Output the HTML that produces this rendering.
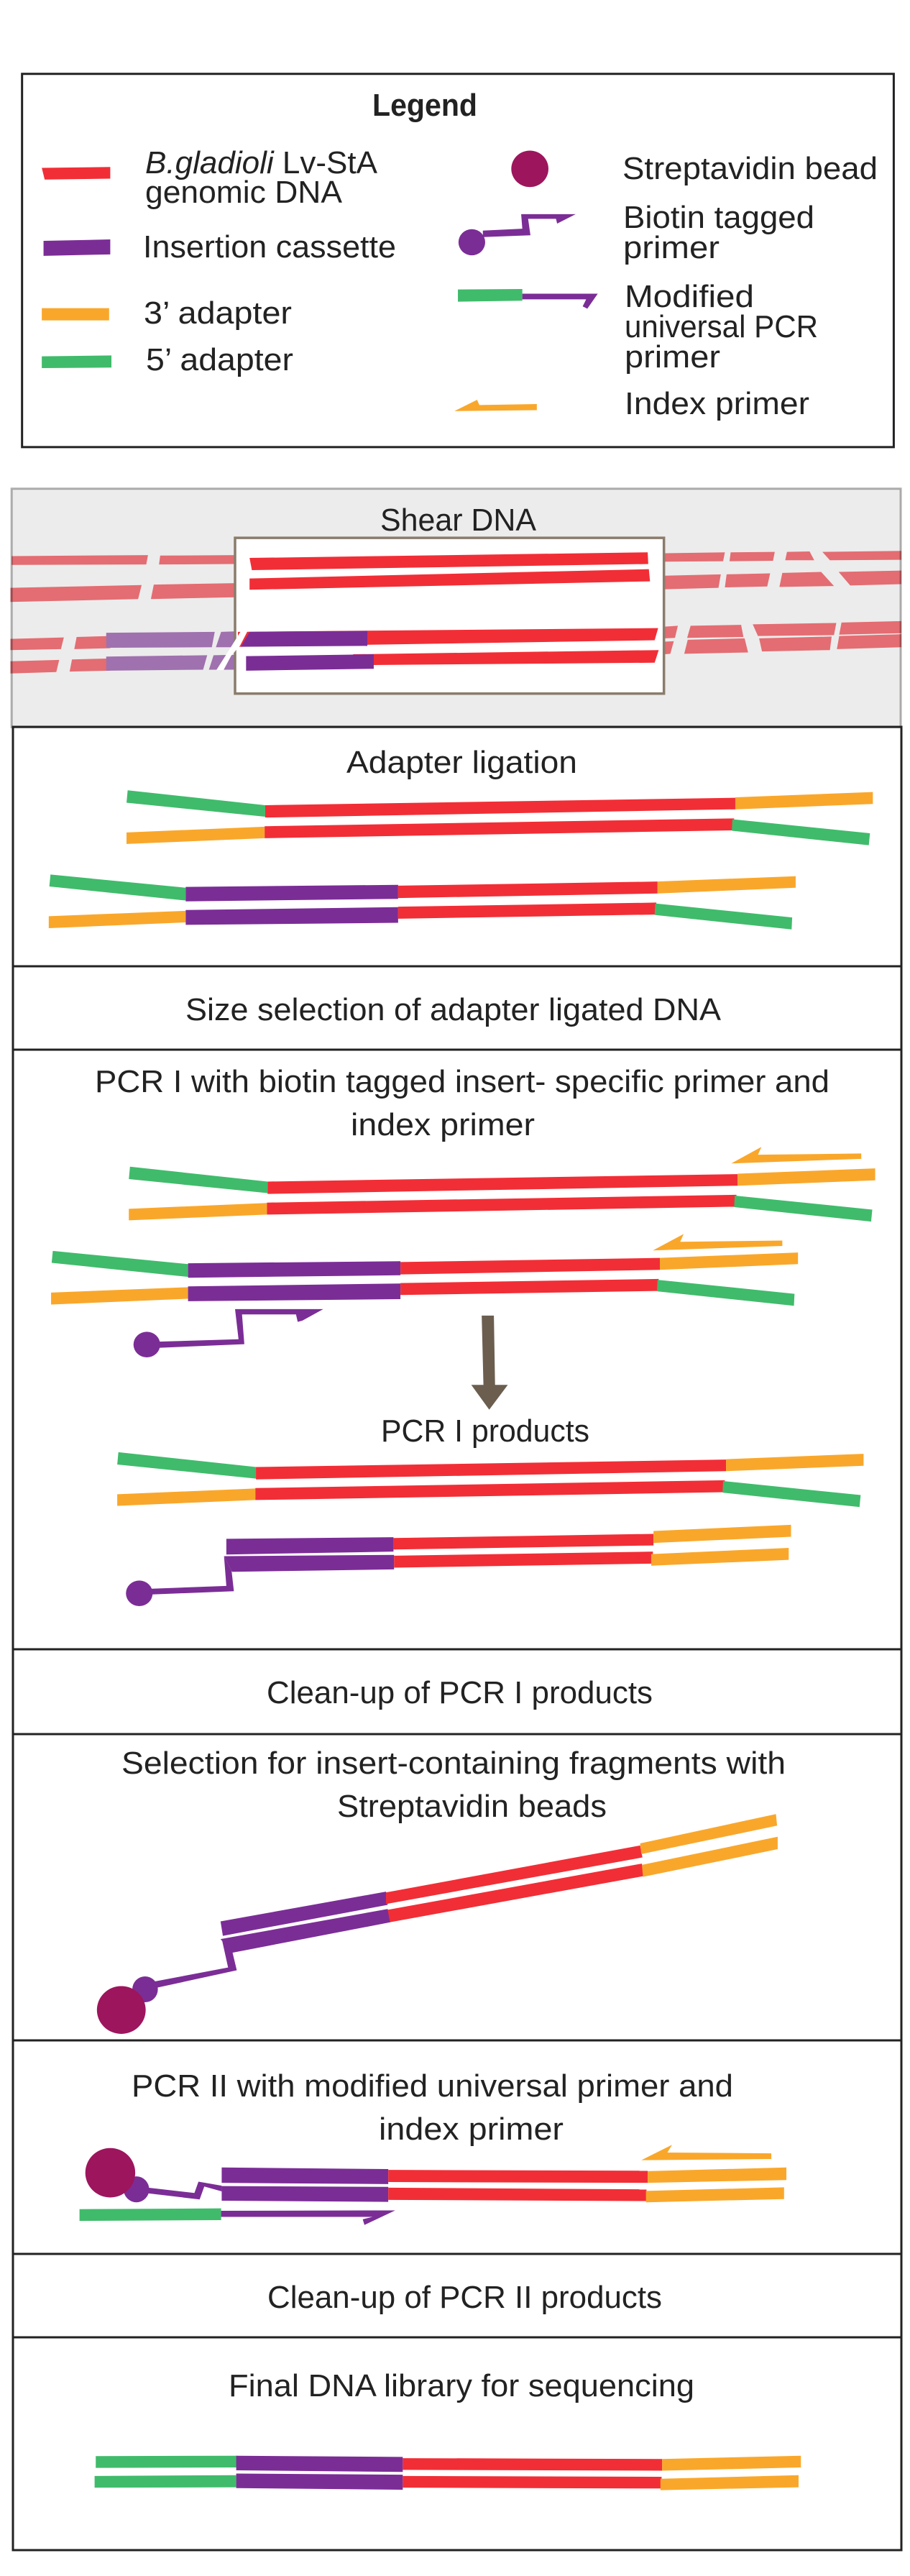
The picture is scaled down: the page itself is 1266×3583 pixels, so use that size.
<!DOCTYPE html>
<html><head><meta charset="utf-8"><style>
html,body{margin:0;padding:0;background:#fff;width:1266px;height:3583px;overflow:hidden}
svg{display:block}
text{font-family:"Liberation Sans",sans-serif;font-size:44px;fill:#222}
.r{fill:#f12e36}.p{fill:#7b2d96}.o{fill:#f9a72b}.g{fill:#40bb6b}.m{fill:#9d155d}
.fr{fill:#e36d72}.fp{fill:#9f71ae}
</style></head><body>
<svg width="1266" height="3583" viewBox="0 0 1266 3583" xmlns="http://www.w3.org/2000/svg" xmlns:xlink="http://www.w3.org/1999/xlink">
<rect width="1266" height="3583" fill="#fff"/>
<!-- Z1 -->
<g transform="scale(.8074,.6505)">
<rect x="38" y="158" width="1502" height="798" fill="#fff" stroke="#222" stroke-width="3" vector-effect="non-scaling-stroke"/>
<polygon class="r" points="72,359 190,357 190,382 77,384"/>
<polygon class="p" points="75,515 190,512 190,544 75,547"/>
<polygon class="o" points="72,659 188,659 188,685 72,685"/>
<polygon class="g" points="72,762 192,760 192,786 72,787"/>
<ellipse class="m" cx="913" cy="361" rx="32" ry="39"/>
<ellipse class="p" cx="813" cy="518" rx="23" ry="28"/>
<polygon class="p" points="832,493 900,489 898,458 992,458 960,478 958,468 910,468 914,503 832,507"/>
<polygon class="g" points="789,619 900,618 900,643 789,645"/>
<polygon class="p" points="900,628 1030,628 1012,660 1004,655 1010,640 900,640"/>
<polygon class="o" points="783,879 822,855 826,866 925,864 925,877"/>
<rect x="20" y="1045" width="1532" height="510" fill="#ececec"/>
<g class="fr">
<polygon points="20,1189 255,1187 252,1207 20,1208"/><polygon points="276,1188 405,1187 405,1206 274,1207"/>
<polygon points="18,1257 244,1251 238,1281 18,1287"/><polygon points="265,1250 405,1247 405,1277 260,1281"/>
<polygon points="1145,1183 1249,1181 1246,1200 1145,1201"/><polygon points="1259,1181 1335,1180 1332,1199 1257,1200"/>
<polygon points="1356,1180 1395,1179 1403,1198 1353,1198"/><polygon points="1417,1180 1553,1178 1553,1197 1430,1198"/>
<polygon points="1145,1231 1242,1228 1238,1257 1145,1260"/><polygon points="1252,1228 1327,1226 1322,1254 1249,1256"/>
<polygon points="1348,1225 1415,1223 1437,1253 1343,1255"/><polygon points="1445,1223 1553,1220 1553,1249 1465,1252"/>
<polygon points="18,1366 110,1363 105,1388 18,1390"/><polygon points="132,1362 190,1360 190,1386 128,1388"/>
<polygon points="18,1414 102,1411 97,1437 18,1440"/><polygon points="124,1410 190,1408 190,1434 120,1436"/>
<polygon points="1145,1340 1168,1338 1163,1364 1145,1365"/><polygon points="1190,1338 1277,1336 1281,1362 1184,1364"/>
<polygon points="1297,1335 1441,1332 1437,1358 1306,1360"/><polygon points="1450,1331 1553,1328 1553,1354 1446,1357"/>
<polygon points="1145,1372 1161,1371 1155,1398 1145,1399"/><polygon points="1185,1368 1283,1365 1289,1395 1179,1398"/>
<polygon points="1308,1365 1433,1361 1430,1390 1313,1393"/><polygon points="1446,1360 1553,1356 1553,1384 1442,1388"/>
</g>
<g class="fp">
<polygon points="183,1353 370,1351 365,1384 183,1385"/><polygon points="381,1351 408,1350 408,1384 372,1384"/>
<polygon points="183,1404 357,1401 350,1432 183,1434"/><polygon points="368,1401 408,1400 408,1432 360,1432"/>
</g>
<rect x="20" y="1045" width="1532" height="510" fill="none" stroke="#000" stroke-opacity=".3" stroke-width="3" vector-effect="non-scaling-stroke"/>
<rect x="405" y="1150" width="739" height="333" fill="#fff" stroke="#8a7c6c" stroke-width="3.5" vector-effect="non-scaling-stroke"/>
<polygon class="r" points="430,1193 1116,1181 1117,1206 434,1219"/>
<polygon class="r" points="430,1237 1118,1217 1120,1243 430,1261"/>
<polygon class="r" points="410,1351 1134,1343 1128,1369 410,1383"/>
<polygon class="p" points="415,1383 430,1351 633,1349 633,1381"/>
<polygon class="r" points="608,1399 1135,1390 1128,1417 640,1422"/>
<polygon class="p" points="424,1403 644,1399 644,1430 424,1434"/>
</g>
<polygon points="335,878 344.3,878 334,898 321.7,912 311,932 301,932 315,910" fill="#fff"/>
<!-- panel lines -->
<g fill="none" stroke="#222">
<rect x="18" y="1011" width="1236" height="2536" stroke-width="3"/>
<path d="M18 1344H1254M18 1460H1254M18 2294H1254M18 2412H1254M18 2838H1254M18 3135H1254M18 3251H1254" stroke-width="3"/>
</g>
<!-- Z2 -->
<g transform="translate(0,1000) scale(.8074,.574)">
<g id="a">
<polygon class="g" points="220,173 457,209 457,237 218,203"/><polygon class="r" points="457,209 1267,191 1267,219 457,239"/><polygon class="o" points="1267,190 1504,177 1504,206 1267,219"/>
<polygon class="o" points="218,275 456,261 456,289 218,303"/><polygon class="r" points="456,260 1265,241 1262,270 456,289"/><polygon class="g" points="1262,243 1499,277 1497,306 1261,271"/>
</g>
<g id="b">
<polygon class="g" points="87,377 320,409 320,440 85,406"/><polygon class="r" points="686,404 1133,394 1133,423 686,434"/><polygon class="p" points="320,407 686,402 686,436 320,442"/><polygon class="o" points="1133,394 1371,381 1371,409 1133,423"/>
<polygon class="o" points="84,478 320,465 320,493 84,507"/><polygon class="r" points="686,455 1131,445 1129,474 686,484"/><polygon class="p" points="320,463 686,456 686,494 320,499"/><polygon class="g" points="1129,447 1365,481 1364,510 1128,475"/>
</g>
<use xlink:href="#a" href="#a" transform="translate(4,912)"/>
<use xlink:href="#b" href="#b" transform="translate(4,912)"/>
<polygon class="o" points="1260,1077 1312,1037 1306,1056 1484,1053 1484,1066"/>
<polygon class="o" points="1125,1288 1178,1248 1172,1267 1348,1264 1348,1277"/>
<ellipse class="p" cx="253" cy="1516" rx="23" ry="31"/>
<polygon class="p" points="272,1509 411,1503 405,1430 557,1430 521,1458 513,1461 510,1443 417,1443 421,1515 272,1524"/>
</g>
<!-- Z3 -->
<g transform="translate(0,1800) scale(.8074,.574)">
<polygon points="830,52 851,52 853,220 875,220 843,280 812,220 833,220" fill="#6b5e4f"/>
<use xlink:href="#a" href="#a" transform="translate(-16,210)"/>
<polygon class="p" points="390,593 678,589 678,624 390,631"/><polygon class="r" points="678,591 1126,581 1126,609 678,619"/><polygon class="o" points="1126,574 1363,559 1363,588 1126,603"/>
<polygon class="p" points="386,635 679,632 679,667 400,673"/><polygon class="r" points="679,634 1125,624 1125,653 679,663"/><polygon class="o" points="1122,630 1359,615 1359,644 1122,658"/>
<ellipse class="p" cx="240" cy="725" rx="23" ry="31"/>
<polygon class="p" points="258,714 390,707 386,635 399,670 403,720 258,728"/>
<polygon class="p" points="380,1520 665,1448 668,1480 384,1555"/><polygon class="r" points="665,1450 1103,1336 1107,1365 665,1478"/><polygon class="o" points="1103,1331 1337,1260 1339,1288 1105,1357"/>
<polygon class="p" points="380,1563 668,1490 673,1522 400,1596"/><polygon class="r" points="668,1492 1106,1380 1110,1410 672,1522"/><polygon class="o" points="1106,1383 1340,1315 1340,1345 1108,1412"/>
</g>
<!-- Z4 -->
<g transform="translate(0,2700) scale(.8074,.5631)">
<polygon class="p" points="383,0 396,0 408,72 270,115 265,100 393,65"/>
<ellipse class="p" cx="250" cy="119" rx="22" ry="32"/>
<ellipse class="m" cx="209" cy="170" rx="42" ry="59"/>
<ellipse class="p" cx="235" cy="613" rx="22" ry="32"/>
<ellipse class="m" cx="190" cy="572" rx="43" ry="61"/>
<polygon class="p" points="250,608 335,622 342,594 382,604 382,618 352,606 344,638 250,622"/>
<polygon class="p" points="382,559 669,563 669,600 382,597"/><polygon class="r" points="669,565 1116,567 1116,597 669,595"/><polygon class="o" points="1116,568 1355,559 1355,590 1116,597"/>
<polygon class="p" points="382,605 669,607 669,644 382,641"/><polygon class="r" points="669,609 1114,613 1114,642 669,639"/><polygon class="o" points="1113,617 1351,608 1351,637 1113,645"/>
<polygon class="g" points="137,662 381,660 381,689 137,691"/>
<polygon class="p" points="381,666 681,665 628,701 625,687 642,681 381,681"/>
<polygon class="o" points="1105,541 1158,503 1150,522 1329,524 1329,538"/>
<polygon class="g" points="165,1272 409,1271 409,1300 165,1301"/><polygon class="p" points="407,1271 694,1274 694,1311 407,1307"/><polygon class="r" points="694,1277 1141,1279 1141,1308 694,1306"/><polygon class="o" points="1141,1279 1380,1271 1380,1300 1141,1308"/>
<polygon class="g" points="163,1321 407,1319 407,1349 163,1350"/><polygon class="p" points="407,1315 694,1318 694,1355 407,1351"/><polygon class="r" points="694,1321 1140,1323 1140,1352 694,1350"/><polygon class="o" points="1138,1328 1376,1319 1376,1349 1138,1356"/>
</g>
<!-- text -->
<text x="518" y="161" textLength="146" lengthAdjust="spacingAndGlyphs" font-weight="bold">Legend</text>
<text x="202" y="241" textLength="323" lengthAdjust="spacingAndGlyphs"><tspan font-style="italic">B.gladioli</tspan> Lv-StA</text>
<text x="202" y="282" textLength="274" lengthAdjust="spacingAndGlyphs">genomic DNA</text>
<text x="199" y="358" textLength="352" lengthAdjust="spacingAndGlyphs">Insertion cassette</text>
<text x="200" y="450" textLength="206" lengthAdjust="spacingAndGlyphs">3’ adapter</text>
<text x="203" y="515" textLength="205" lengthAdjust="spacingAndGlyphs">5’ adapter</text>
<text x="866" y="249" textLength="355" lengthAdjust="spacingAndGlyphs">Streptavidin bead</text>
<text x="867" y="317" textLength="266" lengthAdjust="spacingAndGlyphs">Biotin tagged</text>
<text x="867" y="359" textLength="134" lengthAdjust="spacingAndGlyphs">primer</text>
<text x="869" y="427" textLength="180" lengthAdjust="spacingAndGlyphs">Modified</text>
<text x="869" y="469" textLength="269" lengthAdjust="spacingAndGlyphs">universal PCR</text>
<text x="869" y="511" textLength="133" lengthAdjust="spacingAndGlyphs">primer</text>
<text x="869" y="576" textLength="257" lengthAdjust="spacingAndGlyphs">Index primer</text>
<text x="529" y="738" textLength="217" lengthAdjust="spacingAndGlyphs">Shear DNA</text>
<text x="482" y="1075" textLength="321" lengthAdjust="spacingAndGlyphs">Adapter ligation</text>
<text x="258" y="1419" textLength="745" lengthAdjust="spacingAndGlyphs">Size selection of adapter ligated DNA</text>
<text x="132" y="1519" textLength="1022" lengthAdjust="spacingAndGlyphs">PCR I with biotin tagged insert- specific primer and</text>
<text x="488" y="1579" textLength="256" lengthAdjust="spacingAndGlyphs">index primer</text>
<text x="530" y="2005" textLength="290" lengthAdjust="spacingAndGlyphs">PCR I products</text>
<text x="371" y="2369" textLength="537" lengthAdjust="spacingAndGlyphs">Clean-up of PCR I products</text>
<text x="169" y="2467" textLength="924" lengthAdjust="spacingAndGlyphs">Selection for insert-containing fragments with</text>
<text x="469" y="2527" textLength="375" lengthAdjust="spacingAndGlyphs">Streptavidin beads</text>
<text x="183" y="2916" textLength="837" lengthAdjust="spacingAndGlyphs">PCR II with modified universal primer and</text>
<text x="527" y="2976" textLength="257" lengthAdjust="spacingAndGlyphs">index primer</text>
<text x="372" y="3210" textLength="549" lengthAdjust="spacingAndGlyphs">Clean-up of PCR II products</text>
<text x="318" y="3333" textLength="648" lengthAdjust="spacingAndGlyphs">Final DNA library for sequencing</text>
</svg>
</body></html>
